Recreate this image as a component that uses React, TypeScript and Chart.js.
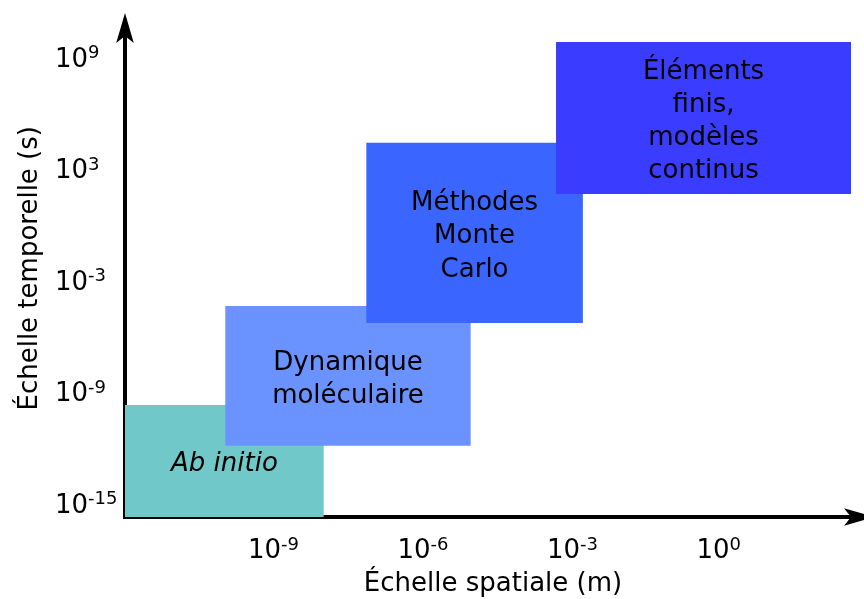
import React, { useEffect, useRef } from 'react';
import { Chart, registerables } from 'chart.js';

Chart.register(...registerables);

// Domain boxes (log10 of space in m, log10 of time in s)
const domainLabels = ['Ab initio', 'Dynamique\nmoléculaire', 'Méthodes\nMonte\nCarlo', 'Éléments\nfinis,\nmodèles\ncontinus'];
const domainItalic = [true, false, false, false];
const xStart = [-11.93, -9.92, -7.09, -3.28];
const xEnd = [-7.94, -4.99, -2.74, 2.64];
const yStart = [-15.77, -11.93, -5.33, 1.61];
const yEnd = [-9.74, -4.41, 4.37, 9.79];
const domainColors = ['#70c8c8', '#6b93ff', '#3a66ff', '#3a3cff'];

const xTickValues = [-9, -6, -3, 0];
const yTickValues = [-15, -9, -3, 3, 9];
const tickBase = '10';

const X_MIN = -11.93;
const X_MAX = 2.78;
const Y_MIN = -15.77;
const Y_MAX = 10.92;

const xTitle = 'Échelle spatiale (m)';
const yTitle = 'Échelle temporelle (s)';

const FONT = "'DejaVu Sans', sans-serif";

const decorPlugin = {
  id: 'decor',
  afterDatasetsDraw(chart: any) {
    const { ctx, scales } = chart;
    const xs = scales.x;
    const ys = scales.y;
    ctx.save();
    ctx.fillStyle = '#000';
    ctx.textAlign = 'center';
    ctx.textBaseline = 'alphabetic';
    const size = 26;
    const lh = 33.3;
    domainLabels.forEach((label, i) => {
      const cx = (xs.getPixelForValue(xStart[i]) + xs.getPixelForValue(xEnd[i])) / 2;
      const cy = (ys.getPixelForValue(yStart[i]) + ys.getPixelForValue(yEnd[i])) / 2;
      const lines = label.split('\n');
      ctx.font = `${domainItalic[i] ? 'italic ' : ''}${size}px ${FONT}`;
      lines.forEach((ln, k) => {
        const by = cy - ((lines.length - 1) / 2) * lh + k * lh + 10.5;
        ctx.fillText(ln, cx, by);
      });
    });
    ctx.restore();
  },
  afterDraw(chart: any) {
    const { ctx, scales, chartArea } = chart;
    const xs = scales.x;
    const ys = scales.y;
    ctx.save();
    ctx.fillStyle = '#000';

    // arrows
    const ax = chartArea.left;
    const tipY = chartArea.top - 8;
    ctx.beginPath();
    ctx.moveTo(ax, tipY);
    ctx.lineTo(ax + 8.8, tipY + 30);
    ctx.lineTo(ax, tipY + 23);
    ctx.lineTo(ax - 8.8, tipY + 30);
    ctx.closePath();
    ctx.fill();

    const ay = chartArea.bottom;
    const tipX = chartArea.right + 16;
    ctx.beginPath();
    ctx.moveTo(tipX, ay);
    ctx.lineTo(tipX - 30, ay - 8.8);
    ctx.lineTo(tipX - 23, ay);
    ctx.lineTo(tipX - 30, ay + 8.8);
    ctx.closePath();
    ctx.fill();

    // tick labels with superscripts
    const mainFont = `26px ${FONT}`;
    const supFont = `18px ${FONT}`;
    ctx.textAlign = 'left';
    ctx.textBaseline = 'alphabetic';
    const drawPow = (x: number, baseline: number, exp: number) => {
      ctx.font = mainFont;
      ctx.fillText(tickBase, x, baseline);
      const w = ctx.measureText(tickBase).width;
      ctx.font = supFont;
      ctx.fillText(String(exp), x + w, baseline - 8.5);
    };
    xTickValues.forEach((v) => {
      const px = xs.getPixelForValue(v);
      drawPow(px - 23, chartArea.bottom + 41.3, v);
    });
    yTickValues.forEach((v) => {
      const py = ys.getPixelForValue(v);
      drawPow(55, py + 10, v);
    });

    // axis titles
    ctx.font = `26px ${FONT}`;
    ctx.textAlign = 'center';
    ctx.fillText(xTitle, 493, 591);
    ctx.save();
    ctx.translate(36.5, 268.3);
    ctx.rotate(-Math.PI / 2);
    ctx.fillText(yTitle, 0, 0);
    ctx.restore();

    ctx.restore();
  },
};

export default function App() {
  const canvasRef = useRef<HTMLCanvasElement | null>(null);

  useEffect(() => {
    if (!canvasRef.current) return;
    const datasets = domainLabels.map((label, i) => ({
      label,
      data: [
        { x: xStart[i], y: yEnd[i] },
        { x: xEnd[i], y: yEnd[i] },
      ],
      fill: { target: { value: yStart[i] } },
      backgroundColor: domainColors[i],
      borderColor: 'rgba(0,0,0,0)',
      borderWidth: 0,
      pointRadius: 0,
      pointHoverRadius: 0,
      showLine: true,
      order: domainLabels.length - i,
    }));

    const chart = new Chart(canvasRef.current, {
      type: 'scatter',
      data: { datasets: datasets as any },
      options: {
        animation: false,
        responsive: false,
        maintainAspectRatio: false,
        events: [],
        layout: { padding: { left: 125, top: 21, right: 6, bottom: 82 } },
        plugins: {
          legend: { display: false },
          tooltip: { enabled: false },
          title: { display: false },
        },
        scales: {
          x: {
            type: 'linear',
            min: X_MIN,
            max: X_MAX,
            z: 1,
            grid: { display: false, drawTicks: false },
            ticks: { display: false },
            border: { display: true, color: '#000', width: 4 },
          },
          y: {
            type: 'linear',
            min: Y_MIN,
            max: Y_MAX,
            z: 1,
            grid: { display: false, drawTicks: false },
            ticks: { display: false },
            border: { display: true, color: '#000', width: 4 },
          },
        },
      },
      plugins: [decorPlugin],
    });
    return () => chart.destroy();
  }, []);

  return (
    <div style={{ position: 'absolute', left: 0, top: 0, width: 864, height: 599, background: '#fff' }}>
      <canvas ref={canvasRef} width={864} height={599} />
    </div>
  );
}
